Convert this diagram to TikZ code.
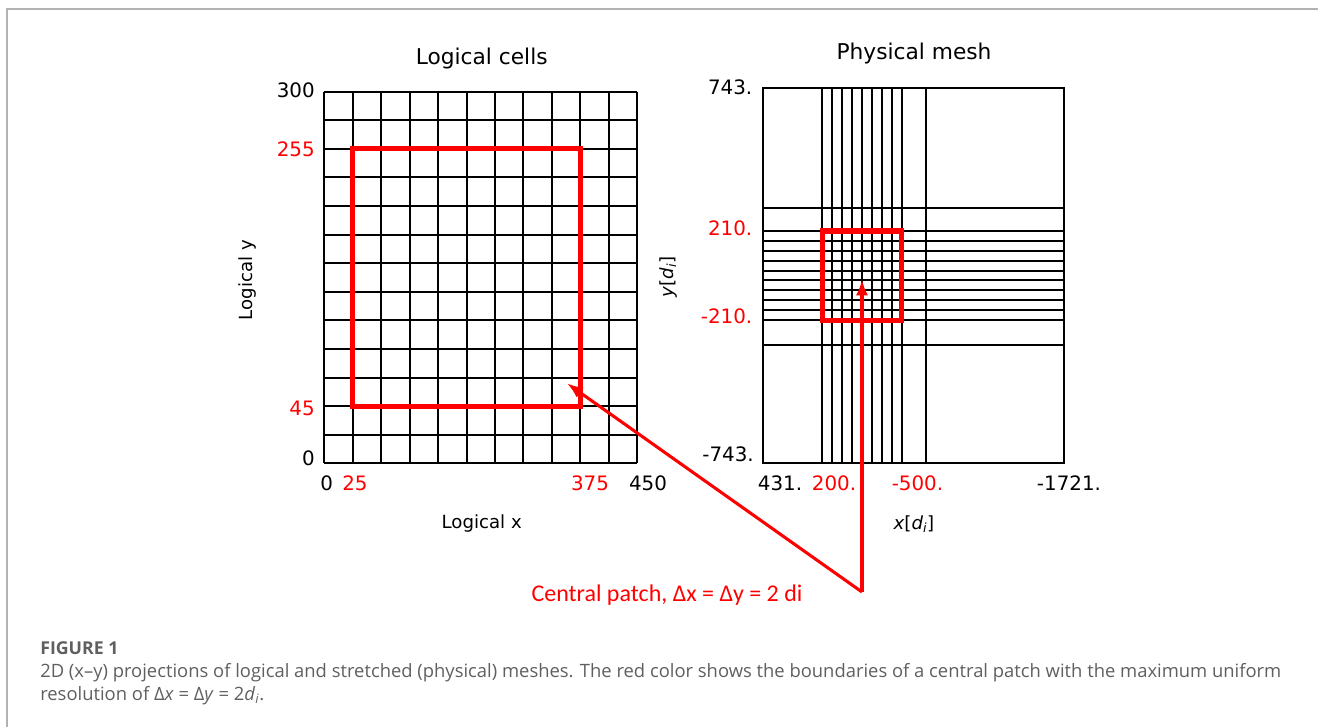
\documentclass[tikz,border=0pt]{standalone}
\usepackage{fontspec}
\setmainfont{DejaVu Sans}
\newfontfamily\notefont{Carlito}
\newfontfamily\capfont{Open Sans}
\usepackage{xcolor}
\usepackage{tikz}
\usetikzlibrary{arrows.meta,positioning,calc}
\definecolor{patchred}{RGB}{255,0,0}
\definecolor{capgray}{RGB}{95,95,95}
\definecolor{framegray}{RGB}{178,178,178}

\begin{document}
\begin{tikzpicture}[
    x=0.75pt, y=-0.75pt,
    font=\fontsize{13.6}{16}\selectfont,
    gridline/.style={line width=1.5pt},
    patch/.style={draw=patchred, line width=3.8pt},
    tick/.style={inner sep=0pt, font=\fontsize{14.9}{17}\selectfont},
    redtick/.style={tick, text=patchred},
    plottitle/.style={inner sep=0pt, anchor=base, font=\fontsize{16.3}{19}\selectfont},
    axlabel/.style={inner sep=0pt, anchor=base},
    redarr/.style={-{Latex[length=12pt,width=9pt]}, draw=patchred, line width=2.3pt},
    capstyle/.style={inner sep=0pt, anchor=base west, text=capgray,
      font=\capfont\fontsize{13.8}{16}\selectfont},
  ]
    \useasboundingbox (0,0) rectangle (1318,727);
    \draw[framegray, line width=1.1pt] (7,727) -- (7,9) -- (1318,9);

    % --- logical cells ---
    \foreach \i in {0,...,11}
      \draw[gridline] (324.3+\i*28.45,91.7) -- (324.3+\i*28.45,463.3);
    \foreach \j in {0,...,13}
      \draw[gridline] (324.3,91.7+\j*28.585) -- (637.3,91.7+\j*28.585);
    \draw[patch] (352.75,148.9) rectangle (580.35,406.1);

    \node[plottitle] (lcells) at (481.7,64.3) {Logical cells};
    \node[axlabel] (lx) at (481.7,528) {Logical x};
    \node[axlabel, rotate=90] (ly) at (252.5,280) {Logical y};
    \node[tick, anchor=east] (ly300) at (315,90.7) {300};
    \node[redtick, anchor=east] (ly255) at (315,149) {255};
    \node[redtick, anchor=east] (ly45) at (315,408) {45};
    \node[tick, anchor=east] (ly0) at (315,458.3) {0};
    \node[tick] (lx0) at (326.7,483.3) {0};
    \node[redtick] (lx25) at (355,483.3) {25};
    \node[redtick] (lx375) at (590,483.3) {375};
    \node[tick] (lx450) at (648,483.3) {450};

    % --- physical mesh ---
    \draw[gridline] (763.3,88.3) rectangle (1064,462.7);
    \foreach \i in {0,...,8}
      \draw[gridline] (822.3+\i*9.9,88.3) -- (822.3+\i*9.9,462.7);
    \draw[gridline] (926,88.3) -- (926,462.7);
    \foreach \j in {0,...,9}
      \draw[gridline] (763.3,231+\j*9.9) -- (1064,231+\j*9.9);
    \draw[gridline] (763.3,208.3) -- (1064,208.3);
    \draw[gridline] (763.3,345) -- (1064,345);
    \draw[patch] (822.3,231) rectangle (901.5,320.1);

    \node[plottitle] (pmesh) at (914,60) {Physical mesh};
    \node[axlabel] (px) at (914,529) {\itshape x\upshape[\itshape d\textsubscript{i}\upshape]};
    \node[inner sep=0pt, rotate=90] (py) at (668,277) {\itshape y\upshape[\itshape d\textsubscript{i}\upshape]};
    \node[tick, anchor=east] (py743) at (752.5,87.3) {743.};
    \node[redtick, anchor=east] (py210) at (752.5,228.3) {210.};
    \node[redtick, anchor=east] (pym210) at (752.5,316) {-210.};
    \node[tick, anchor=east] (pym743) at (754,454) {-743.};
    \node[tick] (px431) at (780,483.3) {431.};
    \node[redtick] (px200) at (834,483.3) {200.};
    \node[redtick] (pxm500) at (917.5,483.3) {-500.};
    \node[tick] (pxm1721) at (1069,483.3) {-1721.};

    % --- central patch note ---
    \node[inner sep=0pt, anchor=base, text=patchred,
      font=\notefont\fontsize{18}{22}\selectfont] (note) at (667,601.5)
      {Central patch, Δx = Δy = 2 di};
    \coordinate (hub) at (862,592);
    \coordinate (tipL) at (567,383.3);
    \coordinate (tipR) at (862,279.3);
    \draw[redarr] (hub) -- (tipL);
    \draw[redarr] (hub) -- (tipR);

    % --- caption ---
    \node[capstyle, font=\capfont\bfseries\fontsize{13.3}{15}\selectfont] (caphead)
      at (40,654.5) {FIGURE 1};
    \node[capstyle] (capline1) at (40,677.5)
      {2D (x–y) projections of logical and stretched (physical) meshes. The red color shows the boundaries of a central patch with the maximum uniform};
    \node[capstyle] (capline2) at (40,700.5)
      {resolution of Δ\textit{x} = Δ\textit{y} = 2\textit{d}\textsubscript{\textit{i}}.};
  \end{tikzpicture}
\end{document}
